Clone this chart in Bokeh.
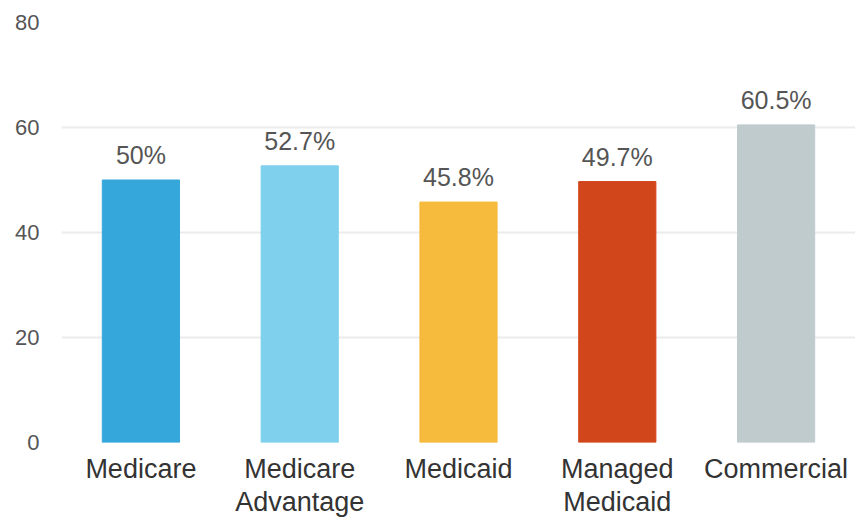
from bokeh.plotting import figure
from bokeh.models import ColumnDataSource, Range1d, FactorRange, LabelSet
from bokeh.core.properties import value
from bokeh.embed import file_html
from bokeh.resources import INLINE

categories = ["Medicare", "Medicare\nAdvantage", "Medicaid", "Managed\nMedicaid", "Commercial"]
values = [50.0, 52.7, 45.8, 49.7, 60.5]
value_labels = ["50%", "52.7%", "45.8%", "49.7%", "60.5%"]
colors = ["#35A7DB", "#7FD0EC", "#F6BA3C", "#D2461B", "#C0CBCE"]
y_ticks = [0, 20, 40, 60, 80]

src = ColumnDataSource(dict(cat=categories, val=values, lab=value_labels, col=colors))

p = figure(width=855, height=520, x_range=FactorRange(*categories), y_range=Range1d(0, 80),
           output_backend="svg", toolbar_location=None,
           min_border_left=61, min_border_right=0, min_border_top=22, min_border_bottom=78)
p.outline_line_color = None
p.background_fill_color = "white"
p.border_fill_color = "white"

p.vbar(x="cat", top="val", width=0.486, color="col", source=src)

labels = LabelSet(x="cat", y="val", text="lab", source=src, text_align="center",
                  text_baseline="bottom", y_offset=11, text_font=value("Liberation Sans"),
                  text_font_size="25px", text_color="#555555")
p.add_layout(labels)

p.xgrid.grid_line_color = None
p.ygrid.grid_line_color = "#ebebeb"
p.ygrid.grid_line_width = 2
p.yaxis.ticker = y_ticks
p.yaxis.axis_line_color = None
p.yaxis.major_tick_line_color = None
p.yaxis.minor_tick_line_color = None
p.yaxis.major_tick_out = 0
p.yaxis.major_label_standoff = 22
p.yaxis.major_label_text_font = "Liberation Sans"
p.yaxis.major_label_text_font_size = "22px"
p.yaxis.major_label_text_color = "#555555"

p.xaxis.axis_line_color = None
p.xaxis.major_tick_line_color = None
p.xaxis.minor_tick_line_color = None
p.xaxis.major_tick_in = 0
p.xaxis.major_tick_out = 0
p.xaxis.major_label_standoff = 11
p.xaxis.major_label_text_font = "Liberation Sans"
p.xaxis.major_label_text_font_size = "27px"
p.xaxis.major_label_text_color = "#333333"
p.xaxis.major_label_text_line_height = 1.12

open("out.html", "w").write(file_html(p, INLINE))
